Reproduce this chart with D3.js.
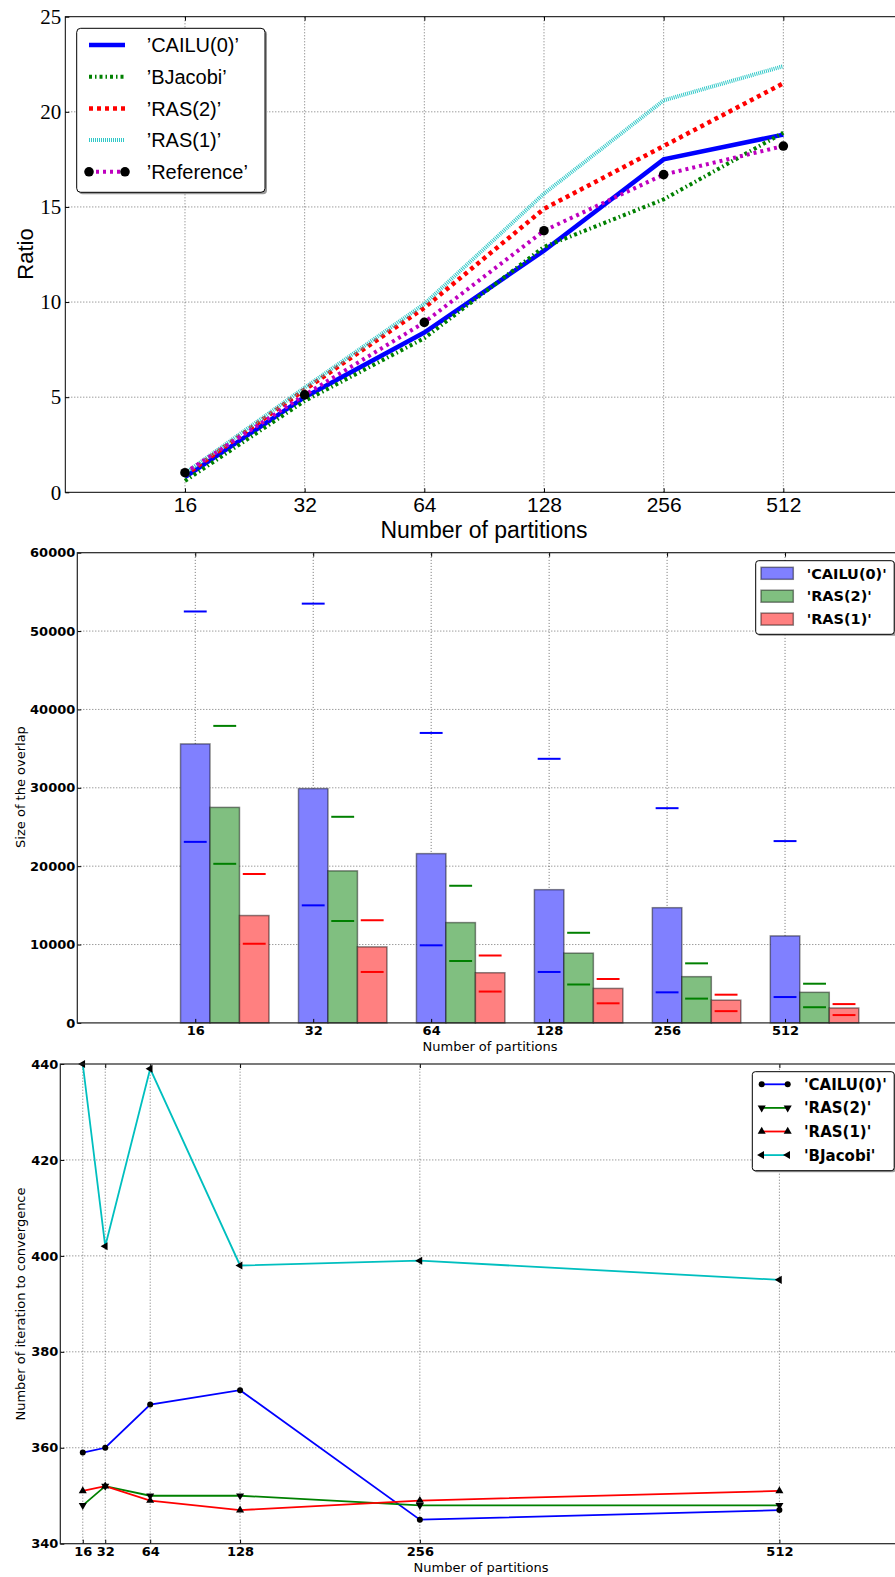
<!DOCTYPE html>
<html><head><meta charset="utf-8">
<script src="https://cdn.jsdelivr.net/npm/d3@7"></script>
<style>body{margin:0;background:#fff} svg{display:block}</style>
</head><body><svg id="c" width="895" height="1577"></svg>
<script>
// ---------------- DATA ----------------
const partitions = [16, 32, 64, 128, 256, 512];

// Chart 1: ratio
const ratioTicks = [0, 5, 10, 15, 20, 25];
const ratioCAILU0 = [0.8, 5.0, 8.4, 12.7, 17.5, 18.8];
const ratioBJacobi = [0.6, 4.8, 8.1, 12.9, 15.4, 18.9];
const ratioRAS2 = [0.9, 5.4, 9.7, 14.9, 18.2, 21.5];
const ratioRAS1 = [1.0, 5.5, 9.9, 15.7, 20.6, 22.4];
const ratioReference = [1.03, 5.12, 8.93, 13.75, 16.7, 18.2];
const ratioNames = ["’CAILU(0)’", "’BJacobi’", "’RAS(2)’", "’RAS(1)’", "’Reference’"];

// Chart 2: size of the overlap
const overlapTicks = [0, 10000, 20000, 30000, 40000, 50000, 60000];
const overlapCAILU0 = [35600, 29900, 21600, 17000, 14700, 11100];
const overlapRAS2 = [27500, 19400, 12800, 8900, 5900, 3900];
const overlapRAS1 = [13700, 9700, 6400, 4400, 2900, 1900];
const overlapMaxCAILU0 = [52500, 53500, 37000, 33700, 27400, 23200];
const overlapMinCAILU0 = [23100, 15000, 9900, 6500, 3900, 3300];
const overlapMaxRAS2 = [37900, 26300, 17500, 11500, 7600, 5000];
const overlapMinRAS2 = [20300, 13000, 7900, 4900, 3100, 2000];
const overlapMaxRAS1 = [19000, 13100, 8600, 5600, 3600, 2400];
const overlapMinRAS1 = [10100, 6500, 4000, 2500, 1500, 1000];
const overlapNames = ["'CAILU(0)'", "'RAS(2)'", "'RAS(1)'"];

// Chart 3: iterations
const iterTicks = [340, 360, 380, 400, 420, 440];
const iterCAILU0 = [359, 360, 369, 372, 345, 347];
const iterRAS2 = [348, 352, 350, 350, 348, 348];
const iterRAS1 = [351, 352, 349, 347, 349, 351];
const iterBJacobi = [440, 402, 439, 398, 399, 395];
const iterNames = ["'CAILU(0)'", "'RAS(2)'", "'RAS(1)'", "'BJacobi'"];

// ---------------- DRAW ----------------
const svg = d3.select('#c');

function gridLines(g, xs, ys, x, y, xr, yr) {
  const gg = g.append('g').attr('stroke', '#000').attr('stroke-opacity', 0.7)
    .attr('stroke-width', 0.8).attr('stroke-dasharray', '1,2');
  gg.selectAll('line.v').data(xs).join('line').attr('class', 'v')
    .attr('x1', d => x(d)).attr('x2', d => x(d)).attr('y1', yr[0]).attr('y2', yr[1]);
  gg.selectAll('line.h').data(ys).join('line').attr('class', 'h')
    .attr('x1', xr[0]).attr('x2', xr[1]).attr('y1', d => y(d)).attr('y2', d => y(d));
}
function styleAxis(a, family, size, weight) {
  a.select('.domain').remove();
  a.selectAll('text').attr('font-family', family).attr('font-size', size)
    .attr('font-weight', weight).attr('fill', '#000');
  a.selectAll('line').attr('stroke', '#000');
}

// ===== Chart 1 =====
(function () {
  const L = 65.3, R = 903, T = 16.7, B = 492.3;
  const x = d3.scaleLinear().domain([0, 7]).range([L, R]);
  const y = d3.scaleLinear().domain([0, 25]).range([B, T]);
  const g = svg.append('g');
  const idx = partitions.map((d, i) => i + 1);
  gridLines(g, idx, ratioTicks.slice(1, -1), x, y, [L, R], [B, T]);

  g.append('g').attr('transform', `translate(${L},0)`)
    .call(d3.axisLeft(y).tickValues(ratioTicks).tickSize(-4).tickPadding(4))
    .call(a => styleAxis(a, 'Liberation Serif, serif', 21, 'normal'));
  g.append('g').attr('transform', `translate(0,${B})`)
    .call(d3.axisBottom(x).tickValues(idx).tickFormat(i => partitions[i - 1]).tickSize(-4).tickPadding(5))
    .call(a => styleAxis(a, 'Liberation Sans, Arial, sans-serif', 21, 'normal'));
  g.append('g').attr('transform', `translate(0,${T})`)
    .call(d3.axisTop(x).tickValues(idx).tickSize(-4).tickFormat(''))
    .call(a => styleAxis(a, 'sans-serif', 1, 'normal'));

  const line = d3.line().x((d, i) => x(i + 1)).y(d => y(d));
  const series = [
    { v: ratioCAILU0, c: '#0000ff', w: 4.5, dash: null },
    { v: ratioBJacobi, c: '#008000', w: 4, dash: '3,3,1.5,3' },
    { v: ratioRAS2, c: '#ff0000', w: 4.5, dash: '4,4' },
    { v: ratioRAS1, c: '#30c8c8', w: 4, dash: '1,1' },
    { v: ratioReference, c: '#bf00bf', w: 4, dash: '3,4' }
  ];
  series.forEach(s => {
    g.append('path').datum(s.v).attr('d', line).attr('fill', 'none')
      .attr('stroke', s.c).attr('stroke-width', s.w)
      .attr('stroke-dasharray', s.dash);
  });
  g.append('g').selectAll('circle').data(ratioReference).join('circle')
    .attr('cx', (d, i) => x(i + 1)).attr('cy', d => y(d)).attr('r', 4.8).attr('fill', '#000');

  g.append('rect').attr('x', L).attr('y', T).attr('width', R - L).attr('height', B - T)
    .attr('fill', 'none').attr('stroke', '#000').attr('stroke-width', 1);

  g.append('text').attr('transform', 'translate(33,254) rotate(-90)')
    .attr('text-anchor', 'middle').attr('font-family', 'Liberation Sans, Arial, sans-serif')
    .attr('font-size', 22).text('Ratio');
  g.append('text').attr('x', 484).attr('y', 538).attr('text-anchor', 'middle')
    .attr('font-family', 'Liberation Sans, Arial, sans-serif').attr('font-size', 23)
    .text('Number of partitions');

  // legend
  const lg = g.append('g');
  lg.append('rect').attr('x', 78.7).attr('y', 30.3).attr('width', 188.3).attr('height', 164)
    .attr('rx', 4).attr('fill', '#999');
  lg.append('rect').attr('x', 76.7).attr('y', 28.3).attr('width', 188.3).attr('height', 164)
    .attr('rx', 4).attr('fill', '#fff').attr('stroke', '#000').attr('stroke-width', 1);
  series.forEach((s, k) => {
    const yy = 45 + k * 31.7;
    lg.append('line').attr('x1', 89).attr('x2', 125).attr('y1', yy).attr('y2', yy)
      .attr('stroke', s.c).attr('stroke-width', s.w).attr('stroke-dasharray', s.dash);
    if (k === 4) {
      [89, 125].forEach(cx => lg.append('circle').attr('cx', cx).attr('cy', yy).attr('r', 4.8).attr('fill', '#000'));
    }
    lg.append('text').attr('x', 146.7).attr('y', yy).attr('dy', '0.36em')
      .attr('font-family', 'Liberation Sans, Arial, sans-serif').attr('font-size', 20)
      .text(ratioNames[k]);
  });
})();

// ===== Chart 2 =====
(function () {
  const L = 77.3, R = 903, T = 552.7, B = 1022.9;
  const x = d3.scaleLinear().domain([0, 7]).range([L, R]);
  const y = d3.scaleLinear().domain([0, 60000]).range([B, T]);
  const g = svg.append('g');
  const idx = partitions.map((d, i) => i + 1);
  gridLines(g, idx, overlapTicks.slice(1, -1), x, y, [L, R], [B, T]);

  const bw = 0.25;
  const groups = [
    { v: overlapCAILU0, mx: overlapMaxCAILU0, mn: overlapMinCAILU0, off: 0, fill: '#8080ff', c: '#0000ff' },
    { v: overlapRAS2, mx: overlapMaxRAS2, mn: overlapMinRAS2, off: 1, fill: '#80bf80', c: '#008000' },
    { v: overlapRAS1, mx: overlapMaxRAS1, mn: overlapMinRAS1, off: 2, fill: '#ff8080', c: '#ff0000' }
  ];
  groups.forEach(s => {
    g.append('g').selectAll('rect').data(s.v).join('rect')
      .attr('x', (d, i) => x(i + 1 - bw / 2 + s.off * bw))
      .attr('width', x(bw) - x(0))
      .attr('y', d => y(d)).attr('height', d => y(0) - y(d))
      .attr('fill', s.fill).attr('stroke', 'rgba(0,0,0,0.45)').attr('stroke-width', 1.5);
  });
  groups.forEach(s => {
    [s.mx, s.mn].forEach(arr => {
      g.append('g').selectAll('line').data(arr).join('line')
        .attr('x1', (d, i) => x(i + 1 + s.off * bw - 0.097))
        .attr('x2', (d, i) => x(i + 1 + s.off * bw + 0.097))
        .attr('y1', d => y(d)).attr('y2', d => y(d))
        .attr('stroke', s.c).attr('stroke-width', 2);
    });
  });

  g.append('g').attr('transform', `translate(${L},0)`)
    .call(d3.axisLeft(y).tickValues(overlapTicks).tickSize(-4).tickPadding(2).tickFormat(d3.format('d')))
    .call(a => styleAxis(a, 'DejaVu Sans, sans-serif', 13, 'bold'));
  g.append('g').attr('transform', `translate(0,${B})`)
    .call(d3.axisBottom(x).tickValues(idx).tickFormat(i => partitions[i - 1]).tickSize(-4).tickPadding(3))
    .call(a => styleAxis(a, 'DejaVu Sans, sans-serif', 13, 'bold'));
  g.append('g').attr('transform', `translate(0,${T})`)
    .call(d3.axisTop(x).tickValues(idx).tickSize(-4).tickFormat(''))
    .call(a => styleAxis(a, 'sans-serif', 1, 'normal'));

  g.append('rect').attr('x', L).attr('y', T).attr('width', R - L).attr('height', B - T)
    .attr('fill', 'none').attr('stroke', '#222').attr('stroke-width', 1.2);

  g.append('text').attr('transform', 'translate(25,787) rotate(-90)')
    .attr('text-anchor', 'middle').attr('font-family', 'DejaVu Sans, sans-serif')
    .attr('font-size', 13).text('Size of the overlap');
  g.append('text').attr('x', 490).attr('y', 1051).attr('text-anchor', 'middle')
    .attr('font-family', 'DejaVu Sans, sans-serif').attr('font-size', 13)
    .text('Number of partitions');

  const lg = g.append('g');
  lg.append('rect').attr('x', 757.2).attr('y', 562.2).attr('width', 140).attr('height', 73.6)
    .attr('rx', 3).attr('fill', '#999');
  lg.append('rect').attr('x', 755.7).attr('y', 560.7).attr('width', 138.5).attr('height', 73.6)
    .attr('rx', 3).attr('fill', '#fff').attr('stroke', '#000').attr('stroke-width', 1);
  groups.forEach((s, k) => {
    const yy = 573.3 + k * 22.9;
    lg.append('rect').attr('x', 761).attr('y', yy - 6).attr('width', 32.3).attr('height', 12)
      .attr('fill', s.fill).attr('stroke', 'rgba(0,0,0,0.45)').attr('stroke-width', 1.5);
    lg.append('text').attr('x', 806.7).attr('y', yy).attr('dy', '0.36em')
      .attr('font-family', 'DejaVu Sans, sans-serif').attr('font-size', 14.5).attr('font-weight', 'bold')
      .text(overlapNames[k]);
  });
})();

// ===== Chart 3 =====
(function () {
  const L = 60.3, R = 903, T = 1064, B = 1543.7;
  const x = d3.scaleLinear().domain([0, 600]).range([L, R]);
  const y = d3.scaleLinear().domain([340, 440]).range([B, T]);
  const g = svg.append('g');
  gridLines(g, partitions, iterTicks.slice(1, -1), x, y, [L, R], [B, T]);

  g.append('g').attr('transform', `translate(${L},0)`)
    .call(d3.axisLeft(y).tickValues(iterTicks).tickSize(-4).tickPadding(2))
    .call(a => styleAxis(a, 'DejaVu Sans, sans-serif', 13, 'bold'));
  g.append('g').attr('transform', `translate(0,${B})`)
    .call(d3.axisBottom(x).tickValues(partitions).tickSize(-4).tickPadding(3))
    .call(a => styleAxis(a, 'DejaVu Sans, sans-serif', 13, 'bold'));
  g.append('g').attr('transform', `translate(0,${T})`)
    .call(d3.axisTop(x).tickValues(partitions).tickSize(-4).tickFormat(''))
    .call(a => styleAxis(a, 'sans-serif', 1, 'normal'));

  const line = d3.line().x((d, i) => x(partitions[i])).y(d => y(d));
  const tri = d3.symbol().type(d3.symbolTriangle).size(28);
  const series = [
    { v: iterCAILU0, c: '#0000ff', m: 'circle' },
    { v: iterRAS2, c: '#008000', m: 'down' },
    { v: iterRAS1, c: '#ff0000', m: 'up' },
    { v: iterBJacobi, c: '#00bfbf', m: 'left' }
  ];
  const rot = { up: 0, down: 180, left: -90 };
  function marker(sel, m, cx, cy) {
    if (m === 'circle') sel.append('circle').attr('cx', cx).attr('cy', cy).attr('r', 3).attr('fill', '#000');
    else sel.append('path').attr('d', tri()).attr('fill', '#000')
      .attr('transform', `translate(${cx},${cy}) rotate(${rot[m]})`);
  }
  series.forEach(s => {
    g.append('path').datum(s.v).attr('d', line).attr('fill', 'none')
      .attr('stroke', s.c).attr('stroke-width', 1.8);
  });
  series.forEach(s => {
    const mg = g.append('g');
    s.v.forEach((d, i) => marker(mg, s.m, x(partitions[i]), y(d)));
  });

  g.append('rect').attr('x', L).attr('y', T).attr('width', R - L).attr('height', B - T)
    .attr('fill', 'none').attr('stroke', '#222').attr('stroke-width', 1.2);

  g.append('text').attr('transform', 'translate(25,1304) rotate(-90)')
    .attr('text-anchor', 'middle').attr('font-family', 'DejaVu Sans, sans-serif')
    .attr('font-size', 13).text('Number of iteration to convergence');
  g.append('text').attr('x', 481).attr('y', 1572).attr('text-anchor', 'middle')
    .attr('font-family', 'DejaVu Sans, sans-serif').attr('font-size', 13)
    .text('Number of partitions');

  const lg = g.append('g');
  lg.append('rect').attr('x', 753.8).attr('y', 1073.2).attr('width', 142).attr('height', 99)
    .attr('rx', 3).attr('fill', '#999');
  lg.append('rect').attr('x', 752.3).attr('y', 1071.7).attr('width', 141.9).attr('height', 99)
    .attr('rx', 3).attr('fill', '#fff').attr('stroke', '#000').attr('stroke-width', 1);
  series.forEach((s, k) => {
    const yy = 1084.3 + k * 23.6;
    lg.append('line').attr('x1', 761.7).attr('x2', 787.7).attr('y1', yy).attr('y2', yy)
      .attr('stroke', s.c).attr('stroke-width', 1.8);
    marker(lg, s.m, 761.7, yy);
    marker(lg, s.m, 787.7, yy);
    lg.append('text').attr('x', 804).attr('y', yy).attr('dy', '0.36em')
      .attr('font-family', 'DejaVu Sans, sans-serif').attr('font-size', 15).attr('font-weight', 'bold')
      .text(iterNames[k]);
  });
})();
</script></body></html>
